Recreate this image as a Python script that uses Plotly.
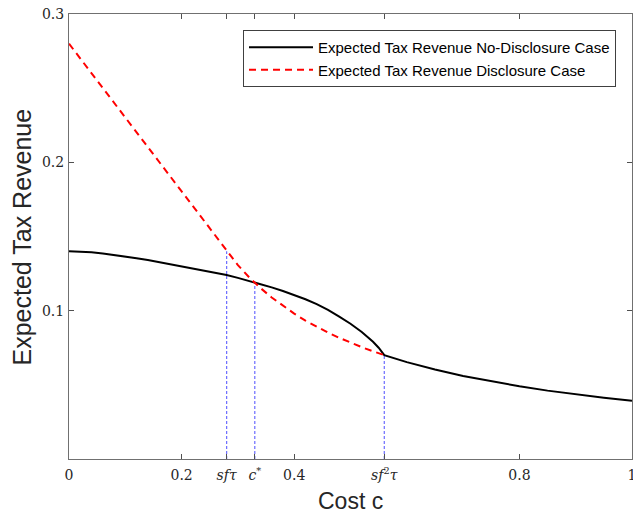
import plotly.graph_objects as go

# Cost grid and read-off values
cost = [0.00, 0.02, 0.04, 0.06, 0.08, 0.10, 0.12, 0.14, 0.16, 0.18, 0.20, 0.22, 0.24, 0.26, 0.28,
        0.30, 0.32, 0.34, 0.36, 0.38, 0.40, 0.42, 0.44, 0.46, 0.48, 0.50, 0.52, 0.54, 0.55, 0.56,
        0.60, 0.65, 0.70, 0.75, 0.80, 0.85, 0.90, 0.95, 1.00]
rev_nodisclosure = [0.1400, 0.1398, 0.1393, 0.1386, 0.1377, 0.1366, 0.1354, 0.1341, 0.1327, 0.1313,
                    0.1298, 0.1283, 0.1268, 0.1254, 0.1240,
                    0.1221, 0.1201, 0.1180, 0.1157, 0.1133, 0.1106, 0.1077, 0.1044, 0.1005, 0.0960,
                    0.0912, 0.0856, 0.0790, 0.0750, 0.0700,
                    0.0653, 0.0603, 0.0560, 0.0523, 0.0490, 0.0461, 0.0436, 0.0413, 0.0392]
cost_disc = [0.00, 0.28, 0.30, 0.32, 0.34, 0.36, 0.38, 0.40, 0.42, 0.44, 0.46, 0.48, 0.50, 0.52, 0.54, 0.56]
rev_disclosure = [0.280, 0.140, 0.1307, 0.1225, 0.1153, 0.1089, 0.1032, 0.0980, 0.0933, 0.0891,
                  0.0852, 0.0817, 0.0784, 0.0754, 0.0726, 0.0700]

# Marked thresholds
marker_x = [0.28, 0.33, 0.56]
marker_top = [0.140, 0.1188, 0.070]

tick_vals = [0, 0.2, 0.28, 0.33, 0.4, 0.56, 0.8, 1]
tick_text = ["0", "0.2", "<i>sfτ</i>", "<i>c</i><sup>*</sup>", "0.4",
             "<i>sf</i><sup>2</sup><i>τ</i>", "0.8", "1"]

fig = go.Figure()

for xv, yt in zip(marker_x, marker_top):
    fig.add_trace(go.Scatter(x=[xv, xv], y=[0, yt], mode="lines",
                             line=dict(color="rgba(70,70,255,0.8)", width=1.2, dash="3px,2px"),
                             showlegend=False, hoverinfo="skip"))

fig.add_trace(go.Scatter(x=cost, y=rev_nodisclosure, mode="lines",
                         line=dict(color="black", width=2),
                         name="Expected Tax Revenue No-Disclosure Case"))
fig.add_trace(go.Scatter(x=cost_disc, y=rev_disclosure, mode="lines",
                         line=dict(color="red", width=2, dash="7px,5px"),
                         name="Expected Tax Revenue Disclosure Case"))

axis_common = dict(showline=True, linecolor="#707070", linewidth=1, mirror="ticks",
                   ticks="inside", ticklen=5, tickcolor="#505050", showgrid=False, zeroline=False,
                   automargin=False, ticklabeloverflow="allow",
                   tickfont=dict(family="DejaVu Serif, Liberation Serif, serif", size=14, color="#262626"))

fig.update_xaxes(range=[0, 1], tickmode="array", tickvals=tick_vals, ticktext=tick_text,
                 ticklabelstandoff=3, **axis_common)
fig.update_yaxes(range=[0, 0.3], tickmode="array", tickvals=[0.1, 0.2, 0.3],
                 ticktext=["0.1", "0.2", "0.3"], ticklabelstandoff=1, **axis_common)

title_font = dict(family="Liberation Sans, Arial", color="#262626")
fig.add_annotation(text="Cost c", xref="paper", yref="paper", x=0.5, y=-0.0944,
                   xanchor="center", yanchor="middle", showarrow=False,
                   font=dict(size=23, **title_font))
fig.add_annotation(text="Expected Tax Revenue", xref="paper", yref="paper", x=-0.0835, y=0.5,
                   xanchor="center", yanchor="middle", textangle=-90, showarrow=False,
                   font=dict(size=25, **title_font))

fig.update_layout(
    width=633, height=515,
    margin=dict(l=69, r=1, t=14, b=56),
    plot_bgcolor="white", paper_bgcolor="white",
    legend=dict(x=0.9716, y=0.964, xanchor="right", yanchor="top",
                bordercolor="#404040", borderwidth=1, bgcolor="white",
                font=dict(family="Liberation Sans, Arial", size=15, color="black"),
                tracegroupgap=0, itemwidth=64),
)

# Remove the default page margin so the figure fills the window exactly.
fig.write_html("out.html", config={"displayModeBar": False},
               post_script="document.body.style.margin='0';")
